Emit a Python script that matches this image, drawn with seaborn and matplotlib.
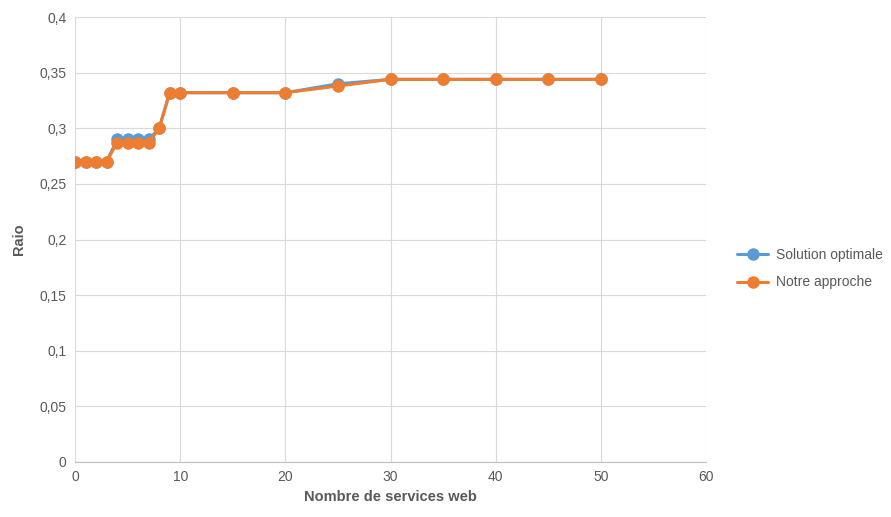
import pandas as pd
import matplotlib
matplotlib.use('Agg')
import matplotlib.pyplot as plt
import seaborn as sns

# Données
services = [0, 1, 2, 3, 4, 5, 6, 7, 8, 9, 10, 15, 20, 25, 30, 35, 40, 45, 50]
optimale = [0.27, 0.27, 0.27, 0.27, 0.29, 0.29, 0.29, 0.29, 0.30, 0.332, 0.332,
            0.332, 0.332, 0.34, 0.344, 0.344, 0.344, 0.344, 0.344]
approche = [0.27, 0.27, 0.27, 0.27, 0.287, 0.287, 0.287, 0.287, 0.30, 0.332, 0.332,
            0.332, 0.332, 0.338, 0.344, 0.344, 0.344, 0.344, 0.344]
series = ['Solution optimale', 'Notre approche']
couleurs = ['#5B9BD5', '#ED7D31']

df = pd.DataFrame({
    'x': services * 2,
    'y': optimale + approche,
    'serie': [series[0]] * len(services) + [series[1]] * len(services),
})

sns.set_style('white')
plt.rcParams['font.family'] = ['Liberation Sans', 'DejaVu Sans']

fig = plt.figure(figsize=(8.91, 5.17), dpi=100)
ax = fig.add_axes([0.0842, 0.1064, 0.7082, 0.8606])

sns.lineplot(data=df, x='x', y='y', hue='serie', palette=couleurs, marker='o',
             markersize=9, markeredgewidth=0, linewidth=2.2, ax=ax)

ax.set_xlim(0, 60)
ax.set_ylim(0, 0.4)
ax.set_xticks(range(0, 61, 10))
ax.set_yticks([i * 0.05 for i in range(9)])
ax.set_yticklabels(['0', '0,05', '0,1', '0,15', '0,2', '0,25', '0,3', '0,35', '0,4'])
ax.tick_params(colors='#595959', labelsize=10, length=0, pad=6)
ax.grid(True, color='#D9D9D9', linewidth=0.8)
ax.set_axisbelow(True)
for s in ['top', 'right', 'left']:
    ax.spines[s].set_visible(False)
ax.spines['bottom'].set_color('#BFBFBF')

ax.set_xlabel('Nombre de services web', fontsize=10.5, fontweight='bold', color='#595959')
ax.set_ylabel('Raio', fontsize=10.5, fontweight='bold', color='#595959', labelpad=10)

ax.legend(loc='center left', bbox_to_anchor=(1.03, 0.434), frameon=False,
          fontsize=10, labelcolor='#595959', handlelength=2.2, labelspacing=0.95,
          handletextpad=0.6)

fig.savefig('out.png', dpi=100)
